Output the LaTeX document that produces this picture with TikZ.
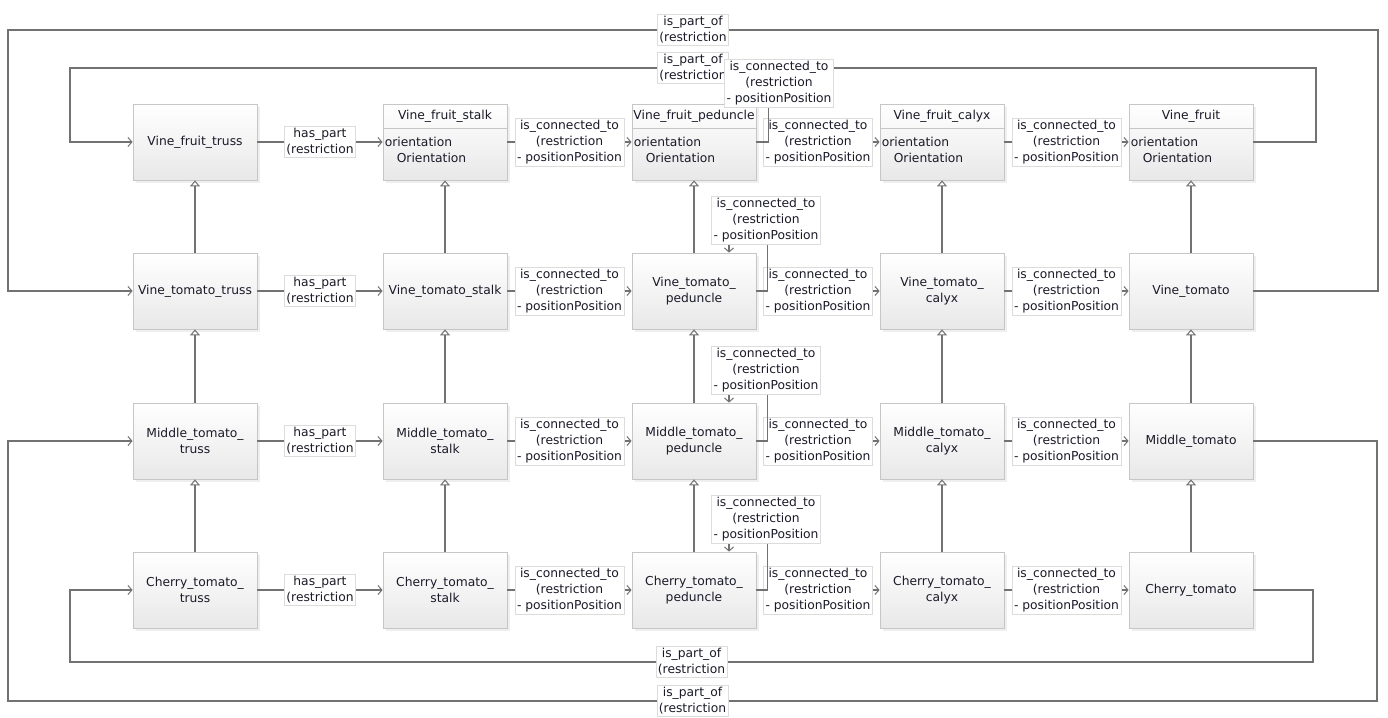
\documentclass[tikz,border=0pt]{standalone}
\usepackage{fontspec}
\setmainfont{DejaVu Sans}
\usetikzlibrary{arrows.meta,shadows,calc}

\definecolor{edgegray}{HTML}{727272}
\definecolor{boxline}{HTML}{C6C6C6}
\definecolor{lblline}{HTML}{DCDCDC}
\definecolor{ink}{HTML}{1A1A28}

\tikzset{
  cls/.style={draw=boxline, line width=0.8pt, top color=white, bottom color=black!9,
    minimum width=124pt, minimum height=76pt, inner sep=1pt, align=center,
    font=\fontsize{12.3}{16}\selectfont, text=ink,
    drop shadow={shadow xshift=2.5pt, shadow yshift=-2.5pt, fill=black!12}},
  txt/.style={inner sep=0pt, font=\fontsize{12.3}{16}\selectfont, text=ink},
  lbl/.style={fill=white, draw=lblline, line width=0.6pt, inner sep=2pt, align=center,
    font=\fontsize{12.3}{16}\selectfont, text=ink},
  rel/.style={draw=edgegray, line width=1.4pt,
    -{Straight Barb[length=4pt,width=9pt,line width=1pt]}},
  isa/.style={draw=edgegray, line width=1.4pt,
    -{Triangle[open,length=6pt,width=10pt,line width=1pt]}},
}

\newcommand{\conn}{is\_connected\_to\\(restriction\\- positionPosition}
\newcommand{\haspart}{has\_part\\(restriction}
\newcommand{\partof}{is\_part\_of\\(restriction}

\begin{document}
\begin{tikzpicture}[x=1pt, y=-1pt]
  \fill[white] (0,0) rectangle (1388,717);
  \useasboundingbox (0,0) rectangle (1388,717);

  % ---- classes ----
  \node[cls] (r1c1) at (195,142) {Vine\_fruit\_truss};
  \node[cls] (r1c2) at (445,142) {};
  \node[cls] (r1c3) at (694,142) {};
  \node[cls] (r1c4) at (942,142) {};
  \node[cls] (r1c5) at (1191,142) {};

  \node[cls] (r2c1) at (195,291) {Vine\_tomato\_truss};
  \node[cls] (r2c2) at (445,291) {Vine\_tomato\_stalk};
  \node[cls] (r2c3) at (694,291) {Vine\_tomato\_\\peduncle};
  \node[cls] (r2c4) at (942,291) {Vine\_tomato\_\\calyx};
  \node[cls] (r2c5) at (1191,291) {Vine\_tomato};

  \node[cls] (r3c1) at (195,441) {Middle\_tomato\_\\truss};
  \node[cls] (r3c2) at (445,441) {Middle\_tomato\_\\stalk};
  \node[cls] (r3c3) at (694,441) {Middle\_tomato\_\\peduncle};
  \node[cls] (r3c4) at (942,441) {Middle\_tomato\_\\calyx};
  \node[cls] (r3c5) at (1191,441) {Middle\_tomato};

  \node[cls] (r4c1) at (195,590) {Cherry\_tomato\_\\truss};
  \node[cls] (r4c2) at (445,590) {Cherry\_tomato\_\\stalk};
  \node[cls] (r4c3) at (694,590) {Cherry\_tomato\_\\peduncle};
  \node[cls] (r4c4) at (942,590) {Cherry\_tomato\_\\calyx};
  \node[cls] (r4c5) at (1191,590) {Cherry\_tomato};

  % compartments of the fruit classes: name, separator, attribute
  \foreach \c/\t in {2/Vine\_fruit\_stalk,3/Vine\_fruit\_peduncle,4/Vine\_fruit\_calyx,5/Vine\_fruit}{
    \node[txt] (h\c) at ($(r1c\c.north)+(0,13)$) {\t};
    \draw[boxline, line width=0.6pt] ($(r1c\c.north west)+(0,25)$) -- ($(r1c\c.north east)+(0,25)$);
    \node[txt, anchor=west] (a\c) at ($(r1c\c.north west)+(2,38)$) {orientation};
    \node[txt, anchor=west] (o\c) at ($(r1c\c.north west)+(14,54)$) {Orientation};
  }

  % ---- generalisations ----
  \foreach \c in {1,...,5}{
    \draw[isa] (r2c\c) -- (r1c\c);
    \draw[isa] (r3c\c) -- (r2c\c);
    \draw[isa] (r4c\c) -- (r3c\c);
  }

  % ---- is_part_of loops ----
  \coordinate (ot1) at (1378,291); \coordinate (ot2) at (1378,30);
  \coordinate (ot3) at (8,30);     \coordinate (ot4) at (8,291);
  \draw[rel] (r2c5.east) -- (ot1) -- (ot2) -- node[lbl] (pot) {\partof} (ot3) -- (ot4) -- (r2c1.west);

  \coordinate (it1) at (1316,142); \coordinate (it2) at (1316,68);
  \coordinate (it3) at (70,68);    \coordinate (it4) at (70,142);
  \draw[rel] (r1c5.east) -- (it1) -- (it2) -- node[lbl] (pit) {\partof} (it3) -- (it4) -- (r1c1.west);

  \coordinate (ib1) at (1313,590); \coordinate (ib2) at (1313,662);
  \coordinate (ib3) at (70,662);   \coordinate (ib4) at (70,590);
  \draw[rel] (r4c5.east) -- (ib1) -- (ib2) -- node[lbl] (pib) {\partof} (ib3) -- (ib4) -- (r4c1.west);

  \coordinate (ob1) at (1377,441); \coordinate (ob2) at (1377,701);
  \coordinate (ob3) at (8,701);    \coordinate (ob4) at (8,441);
  \draw[rel] (r3c5.east) -- (ob1) -- (ob2) -- node[lbl] (pob) {\partof} (ob3) -- (ob4) -- (r3c1.west);

  % ---- horizontal relations ----
  \foreach \r in {1,...,4}{
    \draw[rel] (r\r c1) -- node[lbl] (hp\r) {\haspart} (r\r c2);
    \draw[rel] (r\r c2) -- node[lbl] (ca\r) {\conn} (r\r c3);
    \draw[rel] (r\r c3) -- node[lbl] (cb\r) {\conn} (r\r c4);
    \draw[rel] (r\r c4) -- node[lbl] (cc\r) {\conn} (r\r c5);
  }

  % ---- peduncle self relations ----
  \draw[rel] (r1c3.east) -- ++(12,0) -- ++(0,-59) -| ($(r1c3.north)+(51,0)$);
  \node[lbl] (sl1) at ($(r1c3.center)+(85,-59)$) {\conn};
  \foreach \r in {2,3,4}{
    \draw[rel] (r\r c3.east) -- ++(11,0) -- ++(0,-71) -| ($(r\r c3.north)+(35,0)$);
    \node[lbl] (sl\r) at ($(r\r c3.center)+(72,-71)$) {\conn};
  }
\end{tikzpicture}
\end{document}
